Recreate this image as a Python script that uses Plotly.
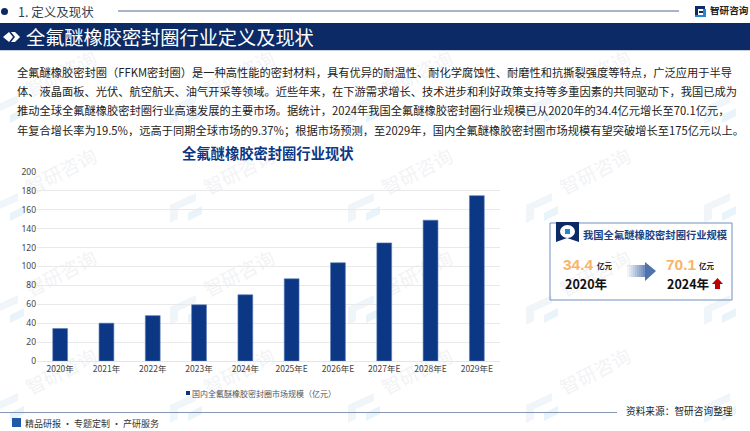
import plotly.graph_objects as go

W, H = 750, 431
NAVY = '#0b2a66'
BAR = '#0c3784'
CJK = 'Noto Sans CJK SC'

# Chart data
years = ['2020年', '2021年', '2022年', '2023年', '2024年', '2025年E', '2026年E', '2027年E', '2028年E', '2029年E']
market_size = [34.4, 40, 48, 59.5, 70.1, 87, 104, 125, 149, 175]
y_ticks = [0, 20, 40, 60, 80, 100, 120, 140, 160, 180, 200]
series_name = '国内全氟醚橡胶密封圈市场规模（亿元）'

body_lines = [
    '全氟醚橡胶密封圈（FFKM密封圈）是一种高性能的密封材料，具有优异的耐温性、耐化学腐蚀性、耐磨性和抗撕裂强度等特点，广泛应用于半导',
    '体、液晶面板、光伏、航空航天、油气开采等领域。近些年来，在下游需求增长、技术进步和利好政策支持等多重因素的共同驱动下，我国已成为',
    '推动全球全氟醚橡胶密封圈行业高速发展的主要市场。据统计，2024年我国全氟醚橡胶密封圈行业规模已从2020年的34.4亿元增长至70.1亿元，',
    '年复合增长率为19.5%，远高于同期全球市场的9.37%；根据市场预测，至2029年，国内全氟醚橡胶密封圈市场规模有望突破增长至175亿元以上。',
]


def px(x):
    return x / W


def py(y):
    return 1 - y / H


def text(x, y, s, size, color='#222222', anchor='left', family=CJK):
    return dict(x=px(x), y=py(y), xref='paper', yref='paper', text=s, showarrow=False,
                xanchor=anchor, yanchor='middle', borderpad=0, borderwidth=0,
                font=dict(size=size, color=color, family=family))


def rect(x0, y0, x1, y1, color, line=None, width=1, opacity=1, layer='above'):
    return dict(type='rect', xref='paper', yref='paper', x0=px(x0), x1=px(x1), y0=py(y0), y1=py(y1),
                fillcolor=color, opacity=opacity, layer=layer,
                line=dict(color=line or color, width=width if line else 0))


def path(points, color, layer='above'):
    d = 'M' + ' L'.join(f'{px(a):.4f},{py(b):.4f}' for a, b in points) + ' Z'
    return dict(type='path', xref='paper', yref='paper', path=d, fillcolor=color, line=dict(width=0), layer=layer)


shapes = []
annotations = []

# Faint watermark grid, kept under the bars with shape labels
for wy in [75, 173, 275, 373]:
    for col in range(5):
        wx = 62 + col * 178
        lx, ly = wx - 54, wy + 38
        shapes.append(path([(lx - 16, ly - 6), (lx + 10, ly - 18), (lx + 10, ly - 10), (lx - 8, ly - 2),
                            (lx - 8, ly + 8), (lx - 16, ly + 12)], '#f0f5fa', layer='below'))
        shapes.append(path([(lx + 2, ly + 2), (lx + 16, ly - 5), (lx + 16, ly + 3), (lx + 2, ly + 10)],
                           '#e9f3fa', layer='below'))
        if col == 4:
            continue
        shapes.append(dict(type='rect', xref='paper', yref='paper', layer='below',
                           x0=px(wx - 40), x1=px(wx + 40), y0=py(wy + 10), y1=py(wy - 10),
                           fillcolor='rgba(0,0,0,0)', line=dict(width=0),
                           label=dict(text='智研咨询', textangle=-27, textposition='middle center',
                                      font=dict(size=19, color='#f2f3f5', family=CJK))))

# Header
shapes.append(dict(type='circle', xref='paper', yref='paper', x0=px(1), x1=px(8), y0=py(15), y1=py(8),
                   fillcolor=NAVY, line=dict(width=0)))
annotations.append(text(18, 12, '1. 定义及现状', 12.5, '#333f50'))
shapes.append(rect(118, 10, 679, 12, '#a9b4ca'))
shapes.append(rect(0, 23, W, 50, NAVY))
shapes.append(rect(0, 50, W, 51, '#c8cfdc'))
shapes.append(path([(3, 37), (9, 32), (13, 37), (9, 42)], 'white'))
shapes.append(path([(11, 32), (15, 32), (20, 37), (15, 42), (11, 42), (15, 37)], 'white'))
annotations.append(text(26, 37, '全氟醚橡胶密封圈行业定义及现状', 19.2, 'white'))

# Logo top right
shapes.append(rect(695, 6, 705, 9, NAVY))
shapes.append(rect(695, 9, 698, 17, NAVY))
shapes.append(rect(699, 11, 703, 13, NAVY))
shapes.append(rect(703, 9, 706, 17, '#1e88d2'))
shapes.append(rect(695, 15, 703, 17, '#1e88d2'))
annotations.append(text(710, 10, '<b>智研咨询</b>', 9.6, '#222222'))

# Body text
for i, line in enumerate(body_lines):
    annotations.append(text(17, 72 + i * 19.2, line, 11.25, '#222222'))

# Chart title
annotations.append(text(268, 152, '<b>全氟醚橡胶密封圈行业现状</b>', 14.3, BAR, 'center'))

# Legend
shapes.append(rect(186, 391, 190, 395, BAR))
annotations.append(text(192, 393, series_name, 8, '#555555'))

# Side panel
shapes.append(rect(550, 223, 732, 300, 'rgba(0,0,0,0)', line='#6f8fc0', width=1))
shapes.append(path([(556, 222), (579, 222), (579, 242), (567, 238), (556, 242)], NAVY))
shapes.append(dict(type='circle', xref='paper', yref='paper', x0=px(560), x1=px(575), y0=py(238), y1=py(225),
                   fillcolor='white', line=dict(width=0)))
shapes.append(rect(565, 229, 570, 234, '#1e88d2'))
annotations.append(text(583, 234, '<b>我国全氟醚橡胶密封圈行业规模</b>', 10.3, '#1f3f80'))
annotations.append(text(563, 264, '<b>34.4</b>', 15.5, '#f9b469', family='Liberation Sans'))
annotations.append(text(597, 265, '<b>亿元</b>', 7.5))
annotations.append(text(565, 283, '<b>2020年</b>', 12.5, '#111111'))
annotations.append(text(666, 264, '<b>70.1</b>', 15.5, '#f9b469', family='Liberation Sans'))
annotations.append(text(699, 265, '<b>亿元</b>', 7.5))
annotations.append(text(667, 283, '<b>2024年</b>', 12.5, '#111111'))

# Gradient arrow drawn as thin slices
for i in range(9):
    x0 = 627 + i * 2
    shapes.append(rect(x0, 265, x0 + 2, 277, '#4f72ad', opacity=0.08 + i * 0.09))
shapes.append(path([(645, 262), (656, 271), (645, 281)], '#4f72ad'))

# Red up arrow
shapes.append(path([(715, 289), (715, 284), (712, 284), (717.5, 278), (723, 284), (720, 284), (720, 289)], '#c00000'))

# Footer
shapes.append(rect(0, 412, 617, 413, '#8796b3'))
annotations.append(text(733, 411, '资料来源：智研咨询整理', 9.7, '#222222', 'right'))
shapes.append(rect(12, 418, 21, 427, '#1e5aa8'))
annotations.append(text(25, 423, '精品研报 · 专题定制 · 产研服务', 9, '#333333'))

fig = go.Figure(go.Bar(x=years, y=market_size, name=series_name, marker=dict(color=BAR, line=dict(color='#5b7db8', width=0.6)),
                       width=0.32, showlegend=False))

fig.update_layout(
    width=W, height=H,
    margin=dict(l=0, r=0, t=0, b=0),
    paper_bgcolor='white', plot_bgcolor='rgba(0,0,0,0)',
    font=dict(family=CJK, color='#444444'),
    shapes=shapes, annotations=annotations,
    xaxis=dict(domain=[px(37), px(500)], tickfont=dict(size=8.5, color='#444444'), showgrid=False,
               showline=True, linecolor='#e6e6e6', ticks='', automargin=False),
    yaxis=dict(domain=[py(361), py(172)], range=[0, 200], tickvals=y_ticks, tickfont=dict(size=8.5, color='#444444', family='Noto Sans'),
               gridcolor='#e9e9e9', gridwidth=1, zeroline=False, ticks='', ticklen=0, automargin=False),
)

# The page's default body margin would push the figure 8px down and right
fig.write_html('out.html', config=dict(displayModeBar=False), post_script="document.body.style.margin='0';")
